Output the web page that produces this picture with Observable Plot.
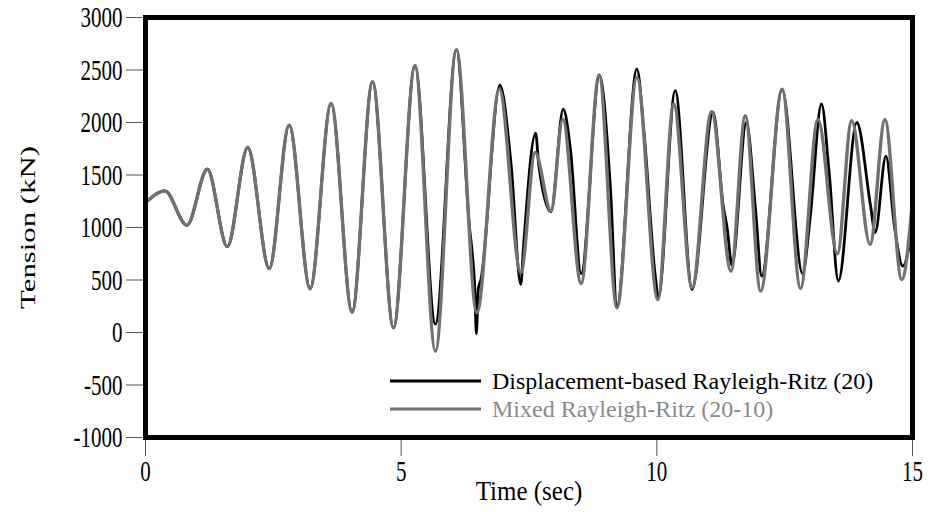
<!DOCTYPE html>
<html>
<head>
<meta charset="utf-8">
<script src="https://cdn.jsdelivr.net/npm/d3@7"></script>
<script src="https://cdn.jsdelivr.net/npm/@observablehq/plot@0.6"></script>
<style>
  html, body { margin: 0; padding: 0; background: #fff; }
  #chart svg { display: block; }
</style>
</head>
<body>
<div id="chart"></div>
<script>
// Displacement-based Rayleigh-Ritz (20) — black series (time in sec, tension in kN)
const blackTime = [0, 0.38, 0.81, 1.21, 1.60, 2.00, 2.42, 2.81, 3.22, 3.63, 4.04, 4.44, 4.85, 5.27, 5.67, 6.08,
  6.34, 6.39, 6.44, 6.47, 6.51, 6.56, 6.93, 7.15, 7.34, 7.39, 7.63, 7.69, 7.93, 8.17, 8.31, 8.52, 8.88, 9.09, 9.22,
  9.61, 9.75, 9.97, 10.03, 10.36, 10.69, 11.10, 11.30, 11.37, 11.47, 11.75, 11.93, 12.05, 12.45, 12.85, 13.00,
  13.22, 13.37, 13.55, 13.91, 14.18, 14.27, 14.48, 14.65, 14.81, 15.0];
const blackTension = [1235, 1348, 1021, 1555, 818, 1762, 608, 1975, 417, 2182, 194, 2388, 45, 2541, 80, 2694,
  983, 760, 420, -10, 420, 505, 2355, 1600, 458, 800, 1899, 1600, 1150, 2128, 1746, 560, 2452, 1396, 249,
  2510, 1900, 537, 340, 2303, 410, 2096, 1200, 1014, 640, 2000, 1174, 537, 2318, 560, 1100,
  2176, 1524, 490, 2000, 1205, 951, 1680, 1000, 632, 1000];

// Mixed Rayleigh-Ritz (20-10) — grey series
const greyTime = [0, 0.38, 0.81, 1.21, 1.60, 2.00, 2.42, 2.81, 3.22, 3.63, 4.04, 4.44, 4.85, 5.27, 5.67, 6.08,
  6.48, 6.92, 7.34, 7.62, 7.93, 8.16, 8.52, 8.87, 9.22, 9.61, 10.02, 10.33, 10.69, 11.07, 11.45, 11.73, 12.03,
  12.45, 12.81, 13.15, 13.53, 13.81, 14.17, 14.46, 14.79, 15.0];
const greyTension = [1235, 1348, 1021, 1555, 818, 1762, 608, 1975, 417, 2182, 194, 2388, 45, 2541, -178, 2694,
  188, 2318, 570, 1715, 1158, 2032, 467, 2452, 235, 2430, 315, 2176, 427, 2102, 585, 2064, 394,
  2318, 420, 2030, 750, 2016, 840, 2026, 505, 1250];

const xTicks = [0, 5, 10, 15];
const yTicks = [-1000, -500, 0, 500, 1000, 1500, 2000, 2500, 3000];
const seriesNames = ["Displacement-based Rayleigh-Ritz (20)", "Mixed Rayleigh-Ritz (20-10)"];
const seriesColors = ["#000000", "#717171"];
const xLabel = "Time (sec)";
const yLabel = "Tension (kN)";

const blackData = blackTime.map((t, i) => ({t, v: blackTension[i]}));
const greyData = greyTime.map((t, i) => ({t, v: greyTension[i]}));

const serif = "'Liberation Serif', 'Times New Roman', Times, serif";

const svg = Plot.plot({
  width: 930,
  height: 512,
  marginLeft: 145,
  marginRight: 18,
  marginTop: 17,
  marginBottom: 75,
  style: {fontFamily: serif, fontSize: "21px", background: "white", color: "black", overflow: "visible"},
  x: {domain: [0, 15]},
  y: {domain: [-1000, 3000]},
  marks: [
    Plot.axisY(yTicks, {tickSize: 19, tickPadding: 4, stroke: "#555", fill: "black", fontSize: 21, label: null, tickFormat: d => String(d)}),
    Plot.axisX(xTicks, {tickSize: 19, tickPadding: 3, stroke: "#555", fill: "black", fontSize: 21, label: null, tickFormat: d => String(d)}),
    Plot.line(blackData, {x: "t", y: "v", stroke: seriesColors[0], strokeWidth: 2.8, curve: "monotone-x"}),
    Plot.line(greyData, {x: "t", y: "v", stroke: seriesColors[1], strokeWidth: 3.4, curve: "monotone-x"}),
    Plot.frame({stroke: "black", strokeWidth: 5}),
    Plot.text([yLabel], {frameAnchor: "left", dx: -118, rotate: -90, textAnchor: "middle", fontSize: 22, fill: "black"}),
    Plot.text([xLabel], {frameAnchor: "bottom", dy: 62, fontSize: 25, fill: "black"})
  ]
});

document.getElementById("chart").appendChild(svg);

// stretch text to match the reference's tall glyphs (scale in the text's own frame)
function stretch(sel, sx, sy) {
  sel.each(function () {
    let t = this.getAttribute("transform") || "";
    let tx = 0, ty = 0;
    for (const a of ["x", "y"]) {
      const v = this.getAttribute(a);
      if (v != null && /^-?[\d.]+$/.test(v.trim())) {
        if (a === "x") tx = +v; else ty = +v;
        this.removeAttribute(a);
      }
    }
    this.setAttribute("transform", `${t} translate(${tx},${ty}) scale(${sx},${sy})`);
  });
}
const root = d3.select(svg);
stretch(root.selectAll('g[aria-label="y-axis tick label"] text'), 1, 1.45);
stretch(root.selectAll('g[aria-label="x-axis tick label"] text'), 1, 1.45);
stretch(root.selectAll('g[aria-label="text"] text').filter(function () { return this.textContent === yLabel; }), 1.4, 1);
stretch(root.selectAll('g[aria-label="text"] text').filter(function () { return this.textContent === xLabel; }), 1, 1.1);

// legend
const legend = root.append("g").attr("font-family", serif).attr("font-size", 24).attr("text-anchor", "start");
const legendY = [381, 409];
seriesNames.forEach((name, i) => {
  legend.append("line")
    .attr("x1", 390).attr("x2", 481)
    .attr("y1", legendY[i]).attr("y2", legendY[i])
    .attr("stroke", seriesColors[i]).attr("stroke-width", 3);
  legend.append("text")
    .attr("x", 492).attr("y", legendY[i])
    .attr("dy", "0.32em")
    .attr("text-anchor", "start")
    .attr("fill", i === 0 ? "#000" : "#8a8a8a")
    .text(name);
});
</script>
</body>
</html>
